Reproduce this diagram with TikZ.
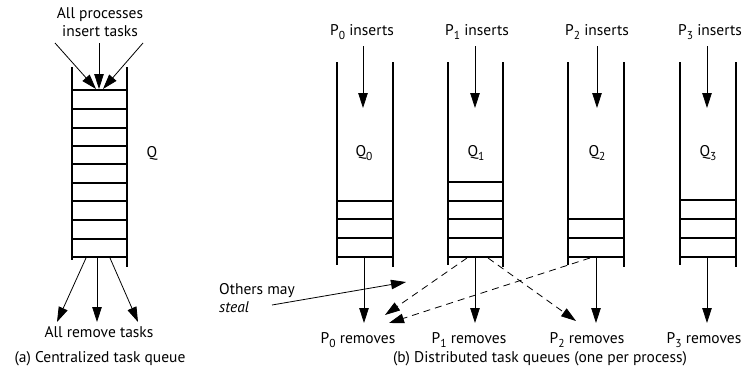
\documentclass[tikz,border=0pt]{standalone}
\usepackage{fontspec}
\setmainfont{PT Sans}
\usetikzlibrary{arrows.meta}
\newcommand{\sub}[1]{\raisebox{-0.45ex}{\fontsize{11.5}{12}\selectfont #1}}
\tikzset{
  wall/.style={line width=1.6pt},
  slot/.style={line width=1.2pt},
  arr/.style={line width=0.8pt,-{Triangle[length=15pt,width=9.5pt]}},
  darr/.style={line width=0.8pt,dash pattern=on 7pt off 5pt,-{Triangle[length=15pt,width=9.5pt]}},
  lbl/.style={font=\fontsize{15.5}{18.5}\selectfont,inner sep=0pt,align=center},
}
\begin{document}
\begin{tikzpicture}[x=1pt,y=-1pt]
\useasboundingbox (0,0) rectangle (744,383);
% ---------- (a) centralized ----------
\draw[wall] (72,67) -- (72,260);
\draw[wall] (127,67) -- (127,267);
\foreach \y in {90,109,128,146,164,183,201,220,239,257}
  \draw[slot] (72,\y) -- (127,\y);
\node[lbl] (ins) at (100,22) {All processes\\insert tasks};
\coordinate (ia1) at (55,43); \coordinate (ia2) at (99,43); \coordinate (ia3) at (143,43);
\coordinate (ta1) at (96,89); \coordinate (ta2) at (99,89); \coordinate (ta3) at (103,89);
\draw[arr] (ia1) -- (ta1);
\draw[arr] (ia2) -- (ta2);
\draw[arr] (ia3) -- (ta3);
\node[lbl] (Q) at (152,153) {Q};
\coordinate (ra1) at (86,258); \coordinate (ra2) at (97,258); \coordinate (ra3) at (110,258);
\node[lbl] (allrem) at (99,332) {All remove tasks};
\coordinate (ea1) at (57,322); \coordinate (ea2) at (97,322); \coordinate (ea3) at (138,322);
\draw[arr] (ra1) -- (ea1);
\draw[arr] (ra2) -- (ea2);
\draw[arr] (ra3) -- (ea3);
\node[lbl] (capa) at (100,359) {(a) Centralized task queue};
% ---------- (b) distributed ----------
% Q0
\draw[wall] (337,62) -- (337,265);
\draw[wall] (393,62) -- (393,267);
\foreach \y in {201,219,238,257} \draw[slot] (337,\y) -- (393,\y);
% Q1
\draw[wall] (448,62) -- (448,265);
\draw[wall] (503,62) -- (503,267);
\foreach \y in {182,201,219,238,257} \draw[slot] (448,\y) -- (503,\y);
% Q2
\draw[wall] (568,62) -- (568,265);
\draw[wall] (624,62) -- (624,267);
\foreach \y in {219,238,257} \draw[slot] (568,\y) -- (624,\y);
% Q3
\draw[wall] (680,62) -- (680,265);
\draw[wall] (736,62) -- (736,267);
\foreach \y in {200,219,238,257} \draw[slot] (680,\y) -- (736,\y);
% labels
\node[lbl] (i0) at (362,32) {P\sub{0} inserts};
\node[lbl] (i1) at (477,32) {P\sub{1} inserts};
\node[lbl] (i2) at (597,32) {P\sub{2} inserts};
\node[lbl] (i3) at (710,32) {P\sub{3} inserts};
\node[lbl] (q0) at (364,153) {Q\sub{0}};
\node[lbl] (q1) at (476,153) {Q\sub{1}};
\node[lbl] (q2) at (597,153) {Q\sub{2}};
\node[lbl] (q3) at (708,153) {Q\sub{3}};
\node[lbl] (r0) at (358,340) {P\sub{0} removes};
\node[lbl] (r1) at (469,340) {P\sub{1} removes};
\node[lbl] (r2) at (587,340) {P\sub{2} removes};
\node[lbl] (r3) at (704,340) {P\sub{3} removes};
% insert arrows
\coordinate (s0) at (363,46); \coordinate (e0) at (363,108);
\coordinate (s1) at (475,46); \coordinate (e1) at (475,108);
\coordinate (s2) at (597,46); \coordinate (e2) at (597,108);
\coordinate (s3) at (707,46); \coordinate (e3) at (707,108);
\draw[arr] (s0) -- (e0);
\draw[arr] (s1) -- (e1);
\draw[arr] (s2) -- (e2);
\draw[arr] (s3) -- (e3);
% remove arrows
\coordinate (b0) at (364,257); \coordinate (f0) at (364,323);
\coordinate (b1) at (475,257); \coordinate (f1) at (475,323);
\coordinate (b2) at (596,257); \coordinate (f2) at (596,323);
\coordinate (b3) at (707,257); \coordinate (f3) at (707,323);
\draw[arr] (b0) -- (f0);
\draw[arr] (b1) -- (f1);
\draw[arr] (b2) -- (f2);
\draw[arr] (b3) -- (f3);
% stealing (dashed)
\coordinate (d1a) at (467,258); \coordinate (t1a) at (385,315);
\coordinate (d2a) at (590,258); \coordinate (t2a) at (389,323);
\coordinate (d1b) at (488,258); \coordinate (t1b) at (576,321);
\draw[darr] (d1a) -- (t1a);
\draw[darr] (d2a) -- (t2a);
\draw[darr] (d1b) -- (t1b);
% others may steal
\node[lbl,align=left,anchor=west] (oth) at (219,298) {Others may\\\itshape steal};
\coordinate (st) at (272,305); \coordinate (se) at (406,282);
\draw[arr] (st) -- (se);
\node[lbl] (capb) at (540,359) {(b) Distributed task queues (one per process)};
\end{tikzpicture}
\end{document}
